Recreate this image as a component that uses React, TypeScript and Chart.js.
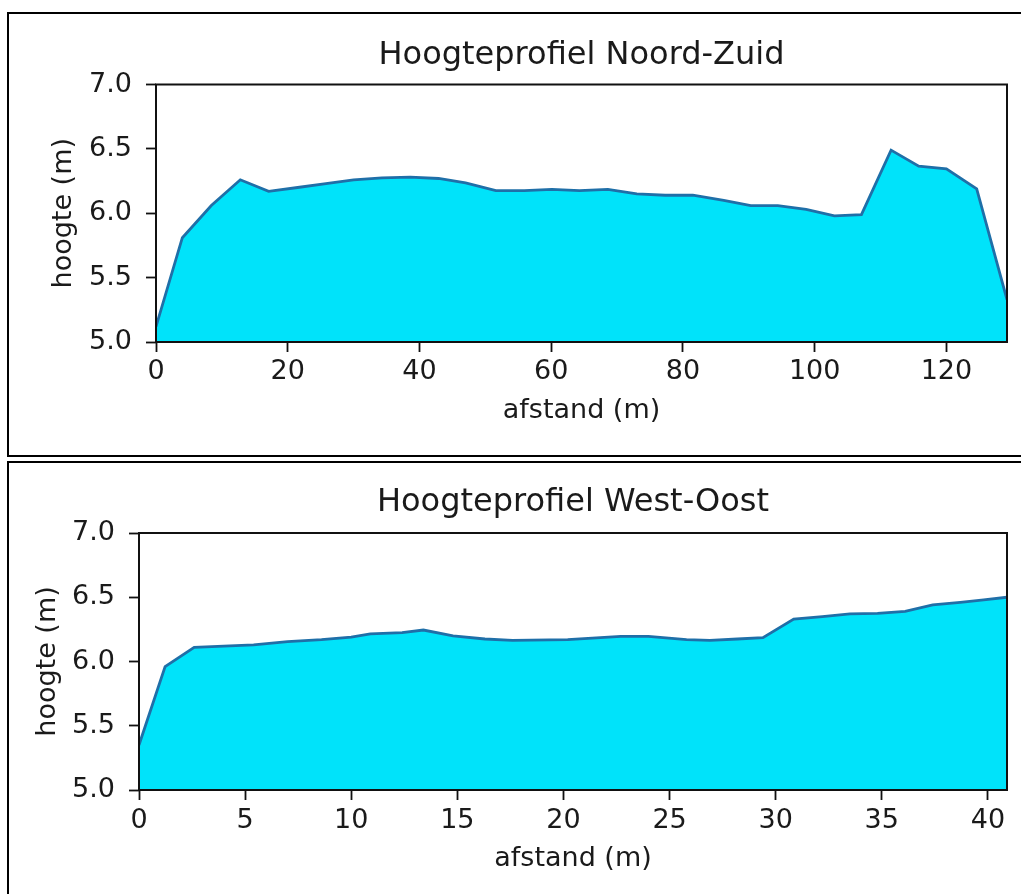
import React, { useEffect, useRef } from "react";
import { Chart, registerables } from "chart.js";

Chart.register(...registerables);

const FONT = "'DejaVu Sans', 'Noto Sans', sans-serif";
const TEXT_COLOR = "#1a1a1a";
const FILL_COLOR = "#00e3fa";
const LINE_COLOR = "#1f6fa8";

const X_LABEL = "afstand (m)";
const Y_LABEL = "hoogte (m)";
const Y_MIN = 5;
const Y_MAX = 7;
const Y_STEP = 0.5;

// Hoogteprofiel Noord-Zuid
const NS_TITLE = "Hoogteprofiel Noord-Zuid";
const NS_DISTANCE = [
  0, 4.0, 8.4, 12.8, 17.1, 21.5, 25.8, 30.0, 34.3, 38.6, 42.9, 47.0, 51.6, 55.9, 60.1,
  64.3, 68.6, 73.0, 77.3, 81.5, 86.2, 90.3, 94.4, 98.7, 103.0, 107.1, 111.6, 115.8,
  120.0, 124.6, 129.2,
];
const NS_HEIGHT = [
  5.12, 5.81, 6.06, 6.26, 6.17, 6.2, 6.23, 6.26, 6.275, 6.28, 6.27, 6.235, 6.175, 6.175,
  6.185, 6.175, 6.185, 6.15, 6.14, 6.14, 6.1, 6.06, 6.06, 6.03, 5.98, 5.99, 6.49, 6.365,
  6.345, 6.19, 5.33,
];
const NS_X_STEP = 20;

// Hoogteprofiel West-Oost
const WO_TITLE = "Hoogteprofiel West-Oost";
const WO_DISTANCE = [
  0, 1.23, 2.6, 5.4, 7.0, 8.6, 10.0, 10.9, 12.4, 13.4, 14.8, 16.3, 17.6, 20.2, 22.7, 24.0,
  25.8, 26.9, 28.2, 29.4, 30.85, 32.2, 33.5, 34.8, 36.1, 37.4, 38.7, 39.8, 40.9,
];
const WO_HEIGHT = [
  5.35, 5.96, 6.11, 6.13, 6.155, 6.17, 6.19, 6.215, 6.225, 6.245, 6.2, 6.175, 6.165, 6.17,
  6.195, 6.195, 6.17, 6.165, 6.175, 6.185, 6.33, 6.35, 6.37, 6.375, 6.39, 6.44, 6.46, 6.48,
  6.5,
];
const WO_X_STEP = 5;

type LayoutSpec = {
  width: number;
  height: number;
  yAxisWidth: number;
  xAxisHeight: number;
  rightPad: number;
  titlePadTop: number;
  titlePadBottom: number;
  yTitlePad: number;
  xTickPad: number;
  xTitlePad: number;
};

const framePlugin = {
  id: "frame",
  afterDraw(chart: any) {
    const { ctx, chartArea } = chart;
    const { left, top, right, bottom } = chartArea;
    ctx.save();
    ctx.strokeStyle = "#111";
    ctx.lineWidth = 2;
    ctx.strokeRect(left, top, right - left, bottom - top);
    ctx.restore();
  },
};

function ProfileChart(props: {
  title: string;
  distance: number[];
  height: number[];
  xStep: number;
  layout: LayoutSpec;
  style: React.CSSProperties;
}) {
  const ref = useRef<HTMLCanvasElement | null>(null);
  const { title, distance, height, xStep, layout, style } = props;

  useEffect(() => {
    if (!ref.current) return;
    const tickFont = { family: FONT, size: 27 };
    const chart = new Chart(ref.current, {
      type: "line",
      data: {
        datasets: [
          {
            data: distance.map((x, i) => ({ x, y: height[i] })),
            borderColor: LINE_COLOR,
            borderWidth: 2.8,
            backgroundColor: FILL_COLOR,
            fill: "start",
            pointRadius: 0,
            tension: 0,
          },
        ],
      },
      options: {
        responsive: false,
        animation: false,
        events: [],
        layout: { padding: { top: 0, left: 0, bottom: 0, right: layout.rightPad } },
        plugins: {
          legend: { display: false },
          tooltip: { enabled: false },
          title: {
            display: true,
            text: title,
            color: TEXT_COLOR,
            fullSize: false,
            font: { family: FONT, size: 32, weight: "normal" },
            padding: { top: layout.titlePadTop, bottom: layout.titlePadBottom },
          },
        },
        scales: {
          x: {
            type: "linear",
            min: distance[0],
            max: distance[distance.length - 1],
            ticks: {
              stepSize: xStep,
              includeBounds: false,
              color: TEXT_COLOR,
              font: tickFont,
              padding: layout.xTickPad,
              maxRotation: 0,
              autoSkip: false,
            },
            grid: {
              display: true,
              drawOnChartArea: false,
              drawTicks: true,
              tickLength: 10,
              tickColor: "#111",
              tickWidth: 1.8,
            },
            border: { display: false },
            title: {
              display: true,
              text: X_LABEL,
              color: TEXT_COLOR,
              font: tickFont,
              padding: { top: 0, bottom: layout.xTitlePad },
            },
            afterFit: (s: any) => {
              s.height = layout.xAxisHeight;
            },
          },
          y: {
            type: "linear",
            min: Y_MIN,
            max: Y_MAX,
            ticks: {
              stepSize: Y_STEP,
              includeBounds: false,
              color: TEXT_COLOR,
              font: tickFont,
              padding: 14,
              callback: (v: any) => Number(v).toFixed(1),
            },
            grid: {
              display: true,
              drawOnChartArea: false,
              drawTicks: true,
              tickLength: 10,
              tickColor: "#111",
              tickWidth: 1.8,
            },
            border: { display: false },
            title: {
              display: true,
              text: Y_LABEL,
              color: TEXT_COLOR,
              font: tickFont,
              padding: { top: layout.yTitlePad, bottom: 0 },
            },
            afterFit: (s: any) => {
              s.width = layout.yAxisWidth;
            },
          },
        },
      },
      plugins: [framePlugin],
    } as any);
    return () => chart.destroy();
  }, [title, distance, height, xStep, layout]);

  return (
    <canvas
      ref={ref}
      width={layout.width}
      height={layout.height}
      style={{ position: "absolute", width: layout.width, height: layout.height, ...style }}
    />
  );
}

const NS_LAYOUT: LayoutSpec = {
  width: 1010,
  height: 438,
  yAxisWidth: 146,
  xAxisHeight: 111,
  rightPad: 13,
  titlePadTop: 21.8,
  titlePadBottom: 9.3,
  yTitlePad: 37.8,
  xTickPad: 3.9,
  xTitlePad: 25.8,
};

const WO_LAYOUT: LayoutSpec = {
  width: 1010,
  height: 431,
  yAxisWidth: 129,
  xAxisHeight: 104,
  rightPad: 13,
  titlePadTop: 20.8,
  titlePadBottom: 10.8,
  yTitlePad: 21.3,
  xTickPad: 4.4,
  xTitlePad: 18.8,
};

export default function App() {
  return (
    <div
      style={{
        position: "absolute",
        left: 0,
        top: 0,
        width: 1021,
        height: 894,
        overflow: "hidden",
        background: "#fff",
      }}
    >
      <div
        style={{
          position: "absolute",
          left: 7,
          top: 12,
          width: 1040,
          height: 445,
          border: "2px solid #000",
          boxSizing: "border-box",
        }}
      />
      <div
        style={{
          position: "absolute",
          left: 7,
          top: 461,
          width: 1040,
          height: 500,
          border: "2px solid #000",
          boxSizing: "border-box",
        }}
      />
      <ProfileChart
        title={NS_TITLE}
        distance={NS_DISTANCE}
        height={NS_HEIGHT}
        xStep={NS_X_STEP}
        layout={NS_LAYOUT}
        style={{ left: 10, top: 15 }}
      />
      <ProfileChart
        title={WO_TITLE}
        distance={WO_DISTANCE}
        height={WO_HEIGHT}
        xStep={WO_X_STEP}
        layout={WO_LAYOUT}
        style={{ left: 10, top: 463 }}
      />
    </div>
  );
}
